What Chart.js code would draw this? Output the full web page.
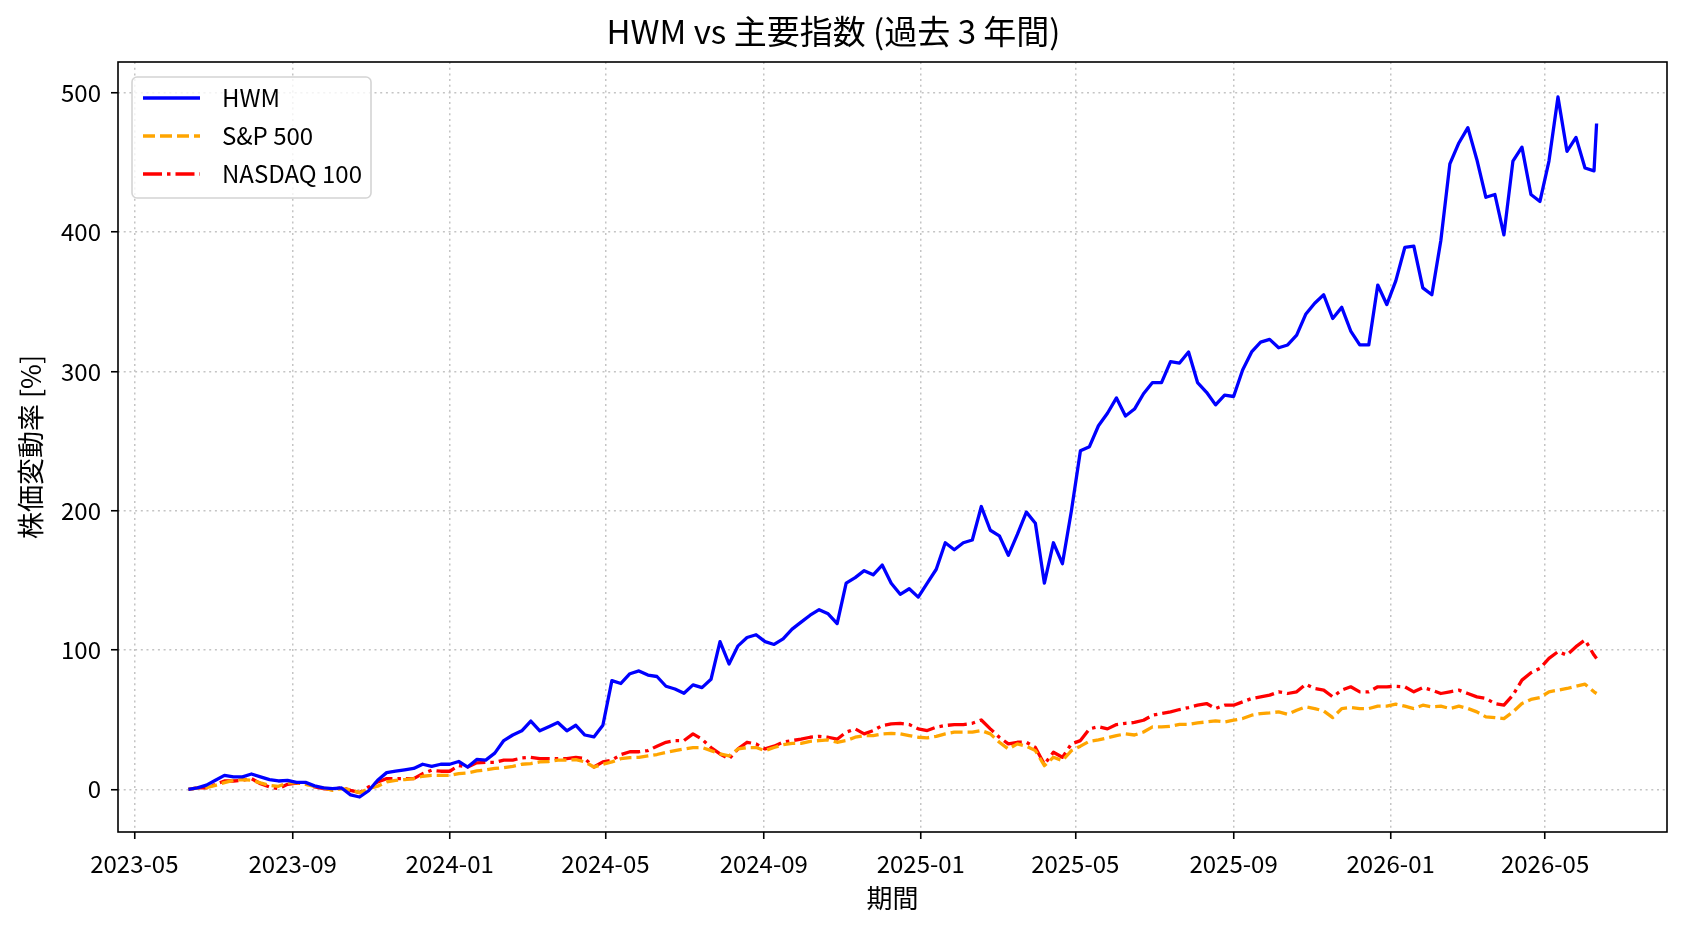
<!DOCTYPE html>
<html>
<head>
<meta charset="utf-8">
<script src="https://cdn.jsdelivr.net/npm/chart.js@4"></script>
<style>
  html, body { margin: 0; padding: 0; background: #fff; }
  canvas { display: block; }
</style>
</head>
<body>
<canvas id="myChart" width="1688" height="932"></canvas>
<script>
// weekly samples (percent change from start)
const dates = [
  '2023-06-12','2023-06-19','2023-06-26','2023-07-03','2023-07-10','2023-07-17','2023-07-24','2023-07-31',
  '2023-08-07','2023-08-14','2023-08-21','2023-08-28','2023-09-04','2023-09-11','2023-09-18','2023-09-25',
  '2023-10-02','2023-10-09','2023-10-16','2023-10-23','2023-10-30','2023-11-06','2023-11-13','2023-11-20',
  '2023-11-27','2023-12-04','2023-12-11','2023-12-18','2023-12-25',
  '2024-01-01','2024-01-08','2024-01-15','2024-01-22','2024-01-29','2024-02-05','2024-02-12','2024-02-19',
  '2024-02-26','2024-03-04','2024-03-11','2024-03-18','2024-03-25','2024-04-01','2024-04-08','2024-04-15',
  '2024-04-22','2024-04-29','2024-05-06','2024-05-13','2024-05-20','2024-05-27','2024-06-03','2024-06-10',
  '2024-06-17','2024-06-24','2024-07-01','2024-07-08','2024-07-15','2024-07-22','2024-07-29','2024-08-05',
  '2024-08-12','2024-08-19','2024-08-26','2024-09-02','2024-09-09','2024-09-16','2024-09-23','2024-09-30',
  '2024-10-07','2024-10-14','2024-10-21','2024-10-28','2024-11-04','2024-11-11','2024-11-18','2024-11-25',
  '2024-12-02','2024-12-09','2024-12-16','2024-12-23','2024-12-30',
  '2025-01-06','2025-01-13','2025-01-20','2025-01-27','2025-02-03','2025-02-10','2025-02-17','2025-02-24',
  '2025-03-03','2025-03-10','2025-03-17','2025-03-24','2025-03-31','2025-04-07','2025-04-14','2025-04-21',
  '2025-04-28','2025-05-05','2025-05-12','2025-05-19','2025-05-26','2025-06-02','2025-06-09','2025-06-16',
  '2025-06-23','2025-06-30','2025-07-07','2025-07-14','2025-07-21','2025-07-28','2025-08-04','2025-08-11',
  '2025-08-18','2025-08-25','2025-09-01','2025-09-08','2025-09-15','2025-09-22','2025-09-29','2025-10-06',
  '2025-10-13','2025-10-20','2025-10-27','2025-11-03','2025-11-10','2025-11-17','2025-11-24','2025-12-01',
  '2025-12-08','2025-12-15','2025-12-22','2025-12-29',
  '2026-01-05','2026-01-12','2026-01-19','2026-01-26','2026-02-02','2026-02-09','2026-02-16','2026-02-23',
  '2026-03-02','2026-03-09','2026-03-16','2026-03-23','2026-03-30','2026-04-06','2026-04-13','2026-04-20',
  '2026-04-27','2026-05-04','2026-05-11','2026-05-18','2026-05-25','2026-06-01','2026-06-08','2026-06-10'
];

const hwm = [
  0, 1, 3, 6.5, 10, 9, 9, 11, 9, 7,
  6, 6.5, 5, 5, 2.5, 1, 0.5, 1, -4, -5.5,
  -1, 6.5, 12, 13, 14, 15, 18, 16.5, 18, 18,
  20, 16, 21.5, 21, 26, 35, 39, 42, 49, 42,
  45, 48, 42, 46, 39, 37.6, 46, 78, 76, 83,
  85, 82, 81, 74, 72, 69, 75, 73, 79, 106,
  90, 103, 109, 111, 106, 104, 108, 115, 120, 125,
  129, 126, 119, 148, 152, 157, 154, 161, 148, 140,
  144, 138, 148, 158, 177, 172, 177, 179, 203, 186,
  182, 168, 183, 199, 191, 148, 177, 162, 200, 243,
  246, 261, 270, 281, 268, 273, 284, 292, 292, 307,
  306, 314, 292, 285, 276, 283, 282, 301, 314, 321,
  323, 317, 319, 326, 341, 349, 355, 338, 346, 329,
  319, 319, 362, 348, 365, 389, 390, 360, 355, 394,
  449, 464, 475, 452, 425, 427, 398, 451, 461, 427,
  422, 451, 497, 458, 468, 446, 444, 478
];

const sp500 = [
  0, 1, 1.2, 2.9, 4.8, 6.5, 7, 6.5, 4.6, 2.9,
  2.2, 4.6, 4.6, 3.6, 2.2, 1, -0.7, 0.5, -0.2, -2.4,
  0.5, 2.2, 5.3, 6.5, 7, 7.7, 9.4, 10, 10, 10,
  11.3, 11.8, 13.2, 14, 15, 15.6, 16.5, 18, 18.5, 19.7,
  20, 21, 21, 21.3, 19.7, 16, 18, 19.7, 22, 22.8,
  23, 24, 25, 26.5, 27.8, 29, 30, 30, 27.8, 25.4,
  24, 29, 30, 30, 27.8, 30, 32, 33, 33, 34.5,
  35, 35.5, 33.8, 35, 37.4, 38.6, 38.6, 39.8, 40.2, 39.8,
  38.6, 37.4, 37, 38, 39.8, 41, 41, 41, 42.2, 39.8,
  33.8, 29, 32.6, 31, 27.8, 17, 23, 20.6, 27.8, 31,
  34.5, 35.5, 37, 38.6, 39.8, 39, 41.2, 44.8, 44.8, 45.3,
  46.7, 46.7, 47.7, 48.4, 49.1, 48.4, 49.6, 50.8, 53.2, 54.4,
  54.9, 55.6, 53.9, 56.8, 59.2, 58, 56.3, 51.5, 58, 58.7,
  58, 58, 59.7, 59.7, 61.1, 59.7, 58, 60.4, 59.2, 59.7,
  58, 59.7, 58, 55.6, 52, 51.5, 50.8, 55.6, 61.6, 64.5,
  65.9, 70, 71.2, 72.4, 74, 75.5, 70, 68.8
];

const nasdaq100 = [
  0, 1, 1, 3.5, 6, 6, 6.5, 7.7, 4, 1.7,
  0.5, 3.6, 4.5, 4, 1.7, 0.5, -0.2, 1.2, -0.7, -2.4,
  1.7, 5.3, 7.7, 7.7, 7.7, 7.7, 11.3, 13.7, 13, 13,
  17, 16, 19, 19.4, 19.4, 21, 21, 22.5, 23, 22,
  22, 22, 22, 23, 22, 16, 19.7, 21, 25, 27,
  27, 27.8, 31, 33.8, 35, 35, 39.8, 36, 30, 25.4,
  21.8, 29, 33.8, 32.6, 29, 31, 33.8, 35, 36, 37.4,
  38, 37.4, 36, 41, 43.4, 39.8, 42.2, 45.8, 47, 47.4,
  46.5, 43.4, 42.2, 44.6, 45.8, 46.5, 46.5, 47.4, 49.8, 43.4,
  37.4, 32.6, 33.8, 33.8, 30, 18, 26.6, 23, 32.6, 35,
  43.4, 45, 43.4, 46.5, 47.4, 48, 49.6, 53.2, 54.4, 55.6,
  57.3, 58.7, 60.4, 61.6, 58, 60.4, 60.4, 62.8, 65.2, 66.4,
  67.6, 70, 68.8, 70, 75.5, 72.4, 71.2, 66.4, 71.2, 73.6,
  70, 70, 73.6, 73.6, 74, 73.6, 70, 73.1, 71.2, 68.8,
  70, 71.2, 68.8, 66.4, 65.2, 61.6, 60.4, 67.6, 78.4, 83.7,
  86.8, 94, 98.8, 96.4, 102.4, 107.2, 96.4, 94
];

const tickLabels = ['2023-05', '2023-09', '2024-01', '2024-05', '2024-09',
                    '2025-01', '2025-05', '2025-09', '2026-01', '2026-05'];
const yTicks = [0, 100, 200, 300, 400, 500];

const toTime = s => Date.parse(s.length === 7 ? s + '-01' : s);
const series = vals => dates.map((d, i) => ({ x: toTime(d), y: vals[i] }));

// matplotlib style 5% margins
const t0 = toTime(dates[0]), t1 = toTime(dates[dates.length - 1]);
const xPad = (t1 - t0) * 0.05;
const allY = hwm.concat(sp500, nasdaq100);
const yMin = Math.min(...allY), yMax = Math.max(...allY);
const yPad = (yMax - yMin) * 0.05;

Chart.defaults.font.family = "'Noto Sans CJK JP', 'Noto Sans', sans-serif";
Chart.defaults.color = '#000';

const frame = {
  id: 'frame',
  afterDatasetsDraw(chart) {
    const { ctx, chartArea: a } = chart;
    ctx.save();
    ctx.strokeStyle = '#000';
    ctx.lineWidth = 1.6;
    ctx.strokeRect(a.left, a.top, a.right - a.left, a.bottom - a.top);
    ctx.restore();
  }
};

const legendBox = {
  id: 'legendBox',
  afterDatasetsDraw(chart) {
    const { ctx, chartArea: a } = chart;
    const x = a.left + 14, y = a.top + 15, w = 239, h = 121;
    ctx.save();
    ctx.beginPath();
    ctx.roundRect(x, y, w, h, 5);
    ctx.fillStyle = 'rgba(255,255,255,0.8)';
    ctx.fill();
    ctx.strokeStyle = '#d4d4d4';
    ctx.lineWidth = 1.6;
    ctx.stroke();
    chart.data.datasets.forEach((ds, i) => {
      const ly = y + 21 + i * 38;
      ctx.beginPath();
      ctx.setLineDash(ds.borderDash || []);
      ctx.strokeStyle = ds.borderColor;
      ctx.lineWidth = ds.borderWidth;
      ctx.moveTo(x + 11, ly);
      ctx.lineTo(x + 68, ly);
      ctx.stroke();
      ctx.setLineDash([]);
      ctx.fillStyle = '#000';
      ctx.font = "24px 'Noto Sans CJK JP'";
      ctx.textBaseline = 'middle';
      ctx.fillText(ds.label, x + 90, ly);
    });
    ctx.restore();
  }
};

const gridOpts = { color: '#c4c4c4', lineWidth: 1.5, tickColor: '#000', tickLength: 7, tickWidth: 1.6 };
const borderOpts = { display: false, dash: [2, 3.7] };

const ctx = document.getElementById('myChart').getContext('2d');
const config = {
  type: 'line',
  data: {
    datasets: [
      { label: 'HWM', data: series(hwm), borderColor: 'blue', borderWidth: 3.3, borderDash: [] },
      { label: 'S&P 500', data: series(sp500), borderColor: 'orange', borderWidth: 3.3, borderDash: [12, 5] },
      { label: 'NASDAQ 100', data: series(nasdaq100), borderColor: 'red', borderWidth: 3.3, borderDash: [19, 5, 3.5, 5] }
    ]
  },
  options: {
    responsive: false,
    animation: false,
    devicePixelRatio: 1,
    elements: {
      point: { radius: 0 },
      line: { tension: 0, borderJoinStyle: 'round', borderCapStyle: 'butt', fill: false }
    },
    layout: { padding: { left: 0, right: 21, top: 0, bottom: 0 } },
    plugins: {
      legend: { display: false },
      tooltip: { enabled: false },
      title: {
        display: true,
        text: 'HWM vs 主要指数 (過去 3 年間)',
        color: '#000',
        font: { size: 33, weight: 'normal' },
        padding: { top: 12, bottom: 10.4 }
      }
    },
    scales: {
      x: {
        type: 'linear',
        min: t0 - xPad,
        max: t1 + xPad,
        afterBuildTicks: s => { s.ticks = tickLabels.map(l => ({ value: toTime(l) })); },
        afterFit: s => { s.height = 100; },
        ticks: {
          color: '#000', font: { size: 24 }, padding: 10, maxRotation: 0, autoSkip: false,
          callback: (v, i) => tickLabels[i]
        },
        grid: gridOpts,
        border: borderOpts,
        title: { display: true, text: '期間', color: '#000', font: { size: 26 }, padding: { top: 0, bottom: 18 } }
      },
      y: {
        min: yMin - yPad,
        max: yMax + yPad,
        afterBuildTicks: s => { s.ticks = yTicks.map(v => ({ value: v })); },
        afterFit: s => { s.width = 118; },
        ticks: { color: '#000', font: { size: 24 }, padding: 10, callback: v => String(v) },
        grid: gridOpts,
        border: borderOpts,
        title: { display: true, text: '株価変動率 [%]', color: '#000', font: { size: 27 }, padding: { top: 15, bottom: 0 } }
      }
    }
  },
  plugins: [frame, legendBox]
};

const myChart = new Chart(ctx, config);
</script>
</body>
</html>
